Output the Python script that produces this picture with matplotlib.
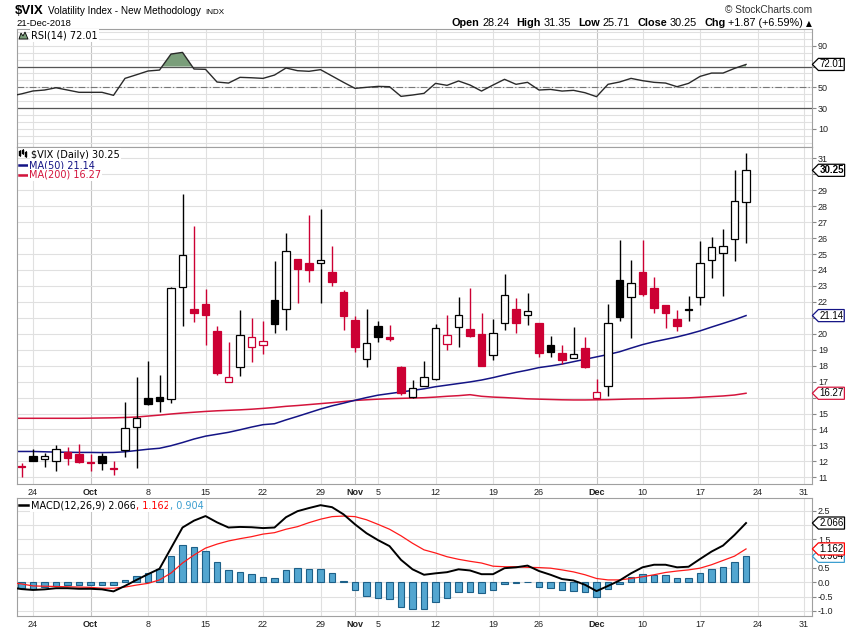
import matplotlib
matplotlib.use("Agg")
import matplotlib.pyplot as plt
import numpy as np
import pandas as pd
from matplotlib.path import Path
from matplotlib.patches import Polygon, Rectangle
from matplotlib.lines import Line2D

# trading calendar (Sep 20 is only there so the lines run to the left edge)
days = pd.bdate_range("2018-09-20", "2018-12-31", freq="C",
                      holidays=["2018-11-22", "2018-12-05", "2018-12-25"])

opens = [11.8, 11.65, 12.35, 12.13, 12.04, 12.59, 12.46, 11.9, 12.34, 11.55,
         12.69, 14.17, 15.95, 16.02, 15.89, 22.95, 21.55, 21.86, 20.17, 16.96,
         17.9, 19.15, 19.28, 22.12, 21.53, 24.67, 24.42, 24.42, 23.87, 22.62,
         20.86, 18.4, 20.49, 19.8, 17.9, 16.05, 16.74, 17.14, 19.34, 20.4,
         20.28, 19.98, 18.65, 20.65, 21.55, 21.16, 20.66, 19.29, 18.77, 18.5,
         19.09, 15.95, 16.72, 23.4, 22.32, 23.85, 22.87, 21.8, 20.92, 21.5,
         22.28, 24.6, 25.04, 25.96, 28.24]
highs = [12.0, 11.9, 12.8, 12.55, 13.0, 12.92, 13.09, 12.46, 12.54, 12.02,
         15.74, 17.31, 18.29, 17.41, 22.96, 28.76, 26.77, 22.8, 20.5, 19.48,
         21.49, 21.01, 20.8, 24.56, 26.3, 24.7, 27.45, 27.82, 25.5, 22.74,
         21.11, 21.55, 20.78, 20.55, 17.98, 17.1, 18.29, 20.59, 21.18, 22.3,
         22.87, 21.28, 20.92, 23.73, 22.22, 22.54, 20.7, 19.85, 19.29, 20.4,
         19.78, 17.14, 21.86, 25.88, 24.62, 25.88, 23.58, 21.8, 21.49, 22.37,
         25.81, 26.05, 26.55, 30.27, 31.35]
lows = [11.4, 11.0, 12.0, 11.67, 11.4, 11.77, 11.92, 11.41, 11.46, 11.16,
        12.29, 11.58, 15.55, 15.11, 15.68, 20.5, 20.76, 19.29, 17.41, 16.95,
        17.37, 18.25, 18.71, 20.07, 20.25, 21.95, 23.23, 21.91, 23.0, 20.23,
        18.87, 17.93, 19.5, 19.56, 16.16, 15.95, 16.7, 17.1, 18.98, 19.19,
        19.82, 17.95, 18.35, 20.23, 20.03, 20.53, 18.56, 18.56, 18.08, 18.46,
        17.87, 15.93, 16.1, 20.82, 19.76, 22.37, 21.28, 20.38, 20.17, 20.8,
        21.8, 23.51, 22.39, 24.58, 25.71]
closes = [11.8, 11.63, 12.05, 12.32, 12.76, 12.23, 11.98, 11.88, 11.92, 11.5,
          14.07, 14.7, 15.58, 15.8, 22.85, 24.92, 21.3, 21.2, 17.52, 17.26,
          19.95, 19.8, 19.53, 20.59, 25.17, 24.08, 24.02, 24.6, 23.26, 21.13,
          19.19, 19.41, 19.82, 19.69, 16.27, 16.58, 17.27, 20.34, 19.9, 21.15,
          19.86, 17.99, 20.03, 22.41, 20.69, 21.41, 18.77, 18.87, 18.35, 18.71,
          17.93, 16.33, 20.66, 21.07, 23.16, 22.49, 21.63, 21.32, 20.5, 21.49,
          24.42, 25.45, 25.5, 28.3, 30.25]
ma50 = [12.62, 12.62, 12.62, 12.6, 12.58, 12.57, 12.56, 12.56, 12.55, 12.56,
        12.6, 12.68, 12.76, 12.82, 12.98, 13.18, 13.4, 13.58, 13.7, 13.82,
        13.98, 14.15, 14.3, 14.36, 14.6, 14.82, 15.05, 15.28, 15.48, 15.65,
        15.83, 16.0, 16.15, 16.25, 16.35, 16.45, 16.55, 16.68, 16.78, 16.88,
        16.98, 17.1, 17.25, 17.42, 17.58, 17.72, 17.88, 17.98, 18.1, 18.25,
        18.4, 18.55, 18.7, 18.87, 19.1, 19.32, 19.5, 19.65, 19.8, 19.98,
        20.18, 20.42, 20.65, 20.88, 21.14]
ma200 = [14.7, 14.7, 14.7, 14.7, 14.7, 14.7, 14.7, 14.71, 14.72, 14.73,
         14.75, 14.78, 14.84, 14.9, 14.97, 15.03, 15.08, 15.13, 15.17, 15.2,
         15.23, 15.27, 15.32, 15.38, 15.45, 15.5, 15.56, 15.62, 15.68, 15.75,
         15.82, 15.86, 15.9, 15.93, 15.95, 15.97, 15.99, 16.03, 16.08, 16.12,
         16.18, 16.08, 16.03, 16.0, 15.96, 15.92, 15.9, 15.88, 15.86, 15.85,
         15.85, 15.86, 15.87, 15.89, 15.91, 15.92, 15.93, 15.95, 15.96, 15.98,
         16.02, 16.06, 16.1, 16.16, 16.27]
rsi = [41.5, 43.7, 46.5, 47.4, 49.6, 47.4, 45.2, 45.2, 45.2, 42.3,
       58.6, 62.1, 65.7, 66.6, 82.0, 83.6, 67.6, 67.3, 55.1, 54.1,
       59.6, 59.2, 58.6, 61.8, 68.6, 66.0, 65.4, 67.0, 60.9, 54.8,
       49.0, 50.0, 50.9, 50.6, 41.3, 42.6, 44.2, 53.8, 51.9, 56.1,
       52.2, 46.4, 52.2, 57.7, 52.9, 54.8, 47.4, 48.0, 46.4, 47.1,
       44.8, 41.0, 52.9, 55.1, 58.6, 56.4, 54.8, 54.1, 50.6, 53.8,
       60.5, 63.7, 63.7, 68.2, 72.01]
macd = [-0.18, -0.24, -0.27, -0.25, -0.21, -0.21, -0.23, -0.23, -0.25, -0.32,
        -0.13, 0.08, 0.28, 0.47, 1.19, 1.91, 2.15, 2.31, 2.09, 1.91,
        1.93, 1.92, 1.89, 1.91, 2.27, 2.48, 2.59, 2.69, 2.62, 2.37,
        2.02, 1.71, 1.47, 1.26, 0.78, 0.45, 0.26, 0.31, 0.35, 0.45,
        0.41, 0.28, 0.28, 0.49, 0.52, 0.58, 0.39, 0.26, 0.11, 0.06,
        -0.09, -0.31, -0.13, 0.06, 0.31, 0.52, 0.61, 0.61, 0.52, 0.54,
        0.81, 1.07, 1.28, 1.65, 2.066]
signal = [-0.01, -0.06, -0.13, -0.14, -0.15, -0.16, -0.17, -0.18, -0.21, -0.21,
          -0.17, -0.1, -0.04, 0.08, 0.32, 0.67, 0.95, 1.19, 1.33, 1.44,
          1.52, 1.59, 1.68, 1.73, 1.85, 1.94, 2.08, 2.2, 2.29, 2.31,
          2.29, 2.18, 2.02, 1.85, 1.62, 1.36, 1.13, 1.02, 0.89, 0.8,
          0.73, 0.67, 0.56, 0.54, 0.54, 0.52, 0.51, 0.49, 0.43, 0.36,
          0.26, 0.13, 0.08, 0.08, 0.13, 0.19, 0.26, 0.34, 0.39, 0.43,
          0.49, 0.61, 0.76, 0.91, 1.162]
hist = [-0.17, -0.21, -0.23, -0.15, -0.13, -0.1, -0.09, -0.11, -0.1, -0.1,
        0.08, 0.22, 0.31, 0.45, 0.9, 1.29, 1.22, 1.08, 0.7, 0.43,
        0.35, 0.28, 0.17, 0.13, 0.43, 0.49, 0.45, 0.45, 0.31, 0.04,
        -0.27, -0.49, -0.56, -0.6, -0.87, -0.94, -0.94, -0.7, -0.56, -0.35,
        -0.33, -0.39, -0.27, -0.07, -0.04, 0.02, -0.15, -0.21, -0.27, -0.31,
        -0.35, -0.5, -0.25, -0.07, 0.19, 0.28, 0.26, 0.24, 0.13, 0.13,
        0.31, 0.45, 0.52, 0.7, 0.904]

tick_dates = ["2018-09-24", "2018-10-01", "2018-10-08", "2018-10-15", "2018-10-22",
              "2018-10-29", "2018-11-01", "2018-11-05", "2018-11-12", "2018-11-19",
              "2018-11-26", "2018-12-03", "2018-12-10", "2018-12-17", "2018-12-24",
              "2018-12-31"]
tick_labels = ["24", "Oct", "8", "15", "22", "29", "Nov", "5", "12", "19", "26",
               "Dec", "10", "17", "24", "31"]
months = ["Oct", "Nov", "Dec"]

W, H = 850, 633
RED = "#cc0033"
NAVY = "#141485"
MA_RED = "#d4143c"
BLUE = "#3d9fd0"
GRID = "#e0e0e0"

fig = plt.figure(figsize=(W / 100, H / 100), dpi=100)
fig.patch.set_facecolor("white")


def rect(left, top, right, bottom):
    return [left / W, 1 - bottom / H, (right - left) / W, (bottom - top) / H]


ax_rsi = fig.add_axes(rect(16.5, 29.3, 811.7, 146.7))
ax = fig.add_axes(rect(16.5, 146.7, 811.7, 484))
ax_m = fig.add_axes(rect(16.5, 498.3, 811.7, 616))

x = np.arange(len(closes))
tick_pos = [days.get_loc(pd.Timestamp(d)) for d in tick_dates]

for a in (ax_rsi, ax, ax_m):
    a.set_xlim(0.565, 69.71)
    a.set_xticks(tick_pos)
    for s in a.spines.values():
        s.set_color("#a0a0a0")
        s.set_linewidth(0.8)
    a.yaxis.tick_right()
    a.tick_params(axis="y", direction="out", length=3, color="#888888",
                  labelsize=6.5, pad=1.5, labelcolor="#222222")
    a.tick_params(axis="x", length=0, labelsize=6.5, pad=3, labelcolor="#222222")
    a.set_axisbelow(True)
    for p, lab in zip(tick_pos, tick_labels):
        a.axvline(p, color="#c4c4c4" if lab in months else GRID, lw=0.8, zorder=0)

for a in (ax, ax_m):
    a.set_xticklabels(tick_labels, family="Liberation Sans")
    for lab in a.get_xticklabels():
        if lab.get_text() in months:
            lab.set_fontweight("bold")
ax_rsi.set_xticklabels([])


def right_labels(a, ticks, fmt, tags, px_per_unit):
    # labels hidden behind the value tags are left blank
    a.set_yticks(ticks)
    labs = []
    for t in ticks:
        hidden = any(abs(t - v) * px_per_unit < 7 for v in tags)
        labs.append("" if hidden else fmt.format(t))
    a.set_yticklabels(labs, family="Liberation Sans")


# ---- RSI panel
ax_rsi.set_ylim(-7.1, 105.8)
right_labels(ax_rsi, [10, 30, 50, 70, 90], "{:d}", [rsi[-1]], 1.04)
for g in np.arange(-10 / 3, 105, 20 / 3):
    ax_rsi.axhline(g, color=GRID, lw=0.8, zorder=0)
ax_rsi.axhline(70, color="#555555", lw=0.9, zorder=1)
ax_rsi.axhline(30, color="#555555", lw=0.9, zorder=1)
ax_rsi.axhline(50, color="#777777", lw=0.8, ls=(0, (6, 2, 1, 2)), zorder=1)
rsi_arr = np.array(rsi)
ax_rsi.fill_between(x, rsi_arr, 70, where=rsi_arr > 70, interpolate=True,
                    facecolor="#7a9e7a", edgecolor="none", zorder=2)
ax_rsi.plot(x, rsi_arr, color="#2a2a2a", lw=1.0, zorder=3)

# ---- price panel
ax.set_ylim(10.58, 31.73)
right_labels(ax, list(range(11, 32)), "{:d}", [closes[-1], ma50[-1], ma200[-1]], 15.95)
ax.grid(axis="y", color=GRID, lw=0.8)
ax.plot(x, ma200, color=MA_RED, lw=1.1, zorder=2)
ax.plot(x, ma50, color=NAVY, lw=1.1, zorder=2)

o, h, l, c = map(np.array, (opens, highs, lows, closes))
prev = np.r_[c[0], c[:-1]]
edge = np.where(c < prev, RED, "black")
face = np.where(c > o, "white", edge)
bottom = np.minimum(o, c)
height = np.maximum(np.abs(c - o), 0.07)
ax.vlines(x, l, h, colors=edge, lw=1.0, zorder=3)
ax.bar(x, height, bottom=bottom, width=0.62, color=face, edgecolor=edge,
       linewidth=0.9, zorder=4)

# ---- MACD panel
ax_m.set_ylim(-1.18, 2.93)
right_labels(ax_m, list(np.arange(-1.0, 2.6, 0.5)), "{:.1f}",
             [macd[-1], signal[-1], hist[-1]], 28.67)
ax_m.grid(axis="y", color=GRID, lw=0.8)
ax_m.bar(x, hist, width=0.6, color="#53a6d0", edgecolor="#1d6088", linewidth=0.8,
         zorder=2)
ax_m.plot(x, signal, color="#ff1a1a", lw=0.9, zorder=3)
ax_m.plot(x, macd, color="black", lw=1.4, zorder=4)


# ---- value tags on the right edge
def tag_style(x0, y0, width, height, mutation_size):
    pad = 0.18 * mutation_size
    x0, y0 = x0 - pad * 0.5, y0 - pad * 0.6
    x1, y1 = x0 + width + pad, y0 + height + pad * 1.2
    tip = (y1 - y0) / 2
    ym = (y0 + y1) / 2
    return Path([(x0 - tip, ym), (x0, y0), (x1, y0), (x1, y1), (x0, y1),
                 (x0 - tip, ym)], closed=True)


def tag(a, val, text, ec, bold=False):
    a.text(1.0095, val, text, transform=a.get_yaxis_transform(), va="center",
           ha="left", fontsize=7, fontweight="bold" if bold else "normal",
           family="Liberation Sans", color="black", clip_on=False, zorder=10,
           bbox=dict(boxstyle=tag_style, fc="white", ec=ec, lw=0.9))


tag(ax_rsi, rsi[-1], f"{rsi[-1]:.2f}", "black")
tag(ax, closes[-1], f"{closes[-1]:.2f}", "black", bold=True)
tag(ax, ma50[-1], f"{ma50[-1]:.2f}", NAVY)
tag(ax, ma200[-1], f"{ma200[-1]:.2f}", MA_RED)
tag(ax_m, hist[-1], f"{hist[-1]:.3f}", BLUE)
tag(ax_m, signal[-1], f"{signal[-1]:.3f}", "red")
tag(ax_m, macd[-1], f"{macd[-1]:.3f}", "black")


# ---- text runs placed in figure pixels
def runs(x_px, base_px, items, align="left"):
    r = fig.canvas.get_renderer()
    arts = []
    for text, props, gap in items:
        t = fig.text(0, 0, text, va="baseline", ha="left", **props)
        arts.append((t, t.get_window_extent(renderer=r).width, gap))
    total = sum(w + g for _, w, g in arts)
    xx = x_px - total if align == "right" else x_px
    for t, w, g in arts:
        t.set_position((xx / W, 1 - base_px / H))
        xx += w + g


LS = ["Liberation Sans", "DejaVu Sans"]
runs(15, 14, [("$VIX", dict(fontsize=9.5, fontweight="bold", family=LS), 4),
              ("Volatility Index - New Methodology", dict(fontsize=7.2, family=LS), 5),
              ("INDX", dict(fontsize=5.8, family=LS), 0)])
fig.text(16 / W, 1 - 26 / H, "21-Dec-2018", fontsize=6.8, family=LS, va="baseline")
runs(812, 12.7, [("\u00a9 StockCharts.com", dict(fontsize=7.3, family=LS,
                                                 color="#333333"), 0)],
     align="right")
hdr = []
for lab, val in [("Open", "28.24"), ("High", "31.35"), ("Low", "25.71"),
                 ("Close", "30.25"), ("Chg", "+1.87 (+6.59%)")]:
    hdr.append((lab, dict(fontsize=7.8, fontweight="bold", family=LS), 3))
    hdr.append((val, dict(fontsize=7.8, family=LS), 7))
hdr[-1] = (hdr[-1][0], hdr[-1][1], 3)
hdr.append(("\u25b2", dict(fontsize=5.5, family=["DejaVu Sans"]), 0))
runs(812, 26, hdr, align="right")

BG = dict(facecolor="white", edgecolor="none", pad=1)
runs(31, 38.5, [(f"RSI(14) {rsi[-1]:.2f}", dict(fontsize=7, bbox=BG), 0)])
runs(31, 157.5, [(f"$VIX (Daily) {closes[-1]:.2f}", dict(fontsize=7, bbox=BG), 0)])
runs(29, 168, [(f"MA(50) {ma50[-1]:.2f}", dict(fontsize=7, color=NAVY, bbox=BG), 0)])
runs(29, 178, [(f"MA(200) {ma200[-1]:.2f}", dict(fontsize=7, color=MA_RED, bbox=BG), 0)])
runs(31, 508.5, [(f"MACD(12,26,9) {macd[-1]:.3f}", dict(fontsize=7, bbox=BG), 0),
                 (f", {signal[-1]:.3f}", dict(fontsize=7, color="red", bbox=BG), 0),
                 (f", {hist[-1]:.3f}", dict(fontsize=7, color=BLUE, bbox=BG), 0)])


def px(xp, yp):
    return (xp / W, 1 - yp / H)


# legend icons
fig.add_artist(Polygon([px(19, 39), px(21, 33), px(23, 36), px(25, 32), px(28, 39)],
                       closed=True, transform=fig.transFigure, fc="#7a9e7a",
                       ec="black", lw=0.6))
for xi, (y0, y1) in zip([20, 23, 26], [(151, 156), (150, 154), (152, 157)]):
    fig.add_artist(Line2D([xi / W, xi / W], [1 - y1 / H, 1 - (y0 - 1.5) / H],
                          color="black", lw=0.6, transform=fig.transFigure))
    fig.add_artist(Rectangle(px(xi - 1, y1), 2 / W, (y1 - y0) / H,
                             transform=fig.transFigure, fc="black", ec="black",
                             lw=0.3))
for yy, col in [(164.5, NAVY), (174.5, MA_RED), (505, "black")]:
    fig.add_artist(Line2D([19 / W, 28 / W], [1 - yy / H, 1 - yy / H], color=col,
                          lw=1.8, transform=fig.transFigure))

fig.savefig("out.png", dpi=100, facecolor="white")
